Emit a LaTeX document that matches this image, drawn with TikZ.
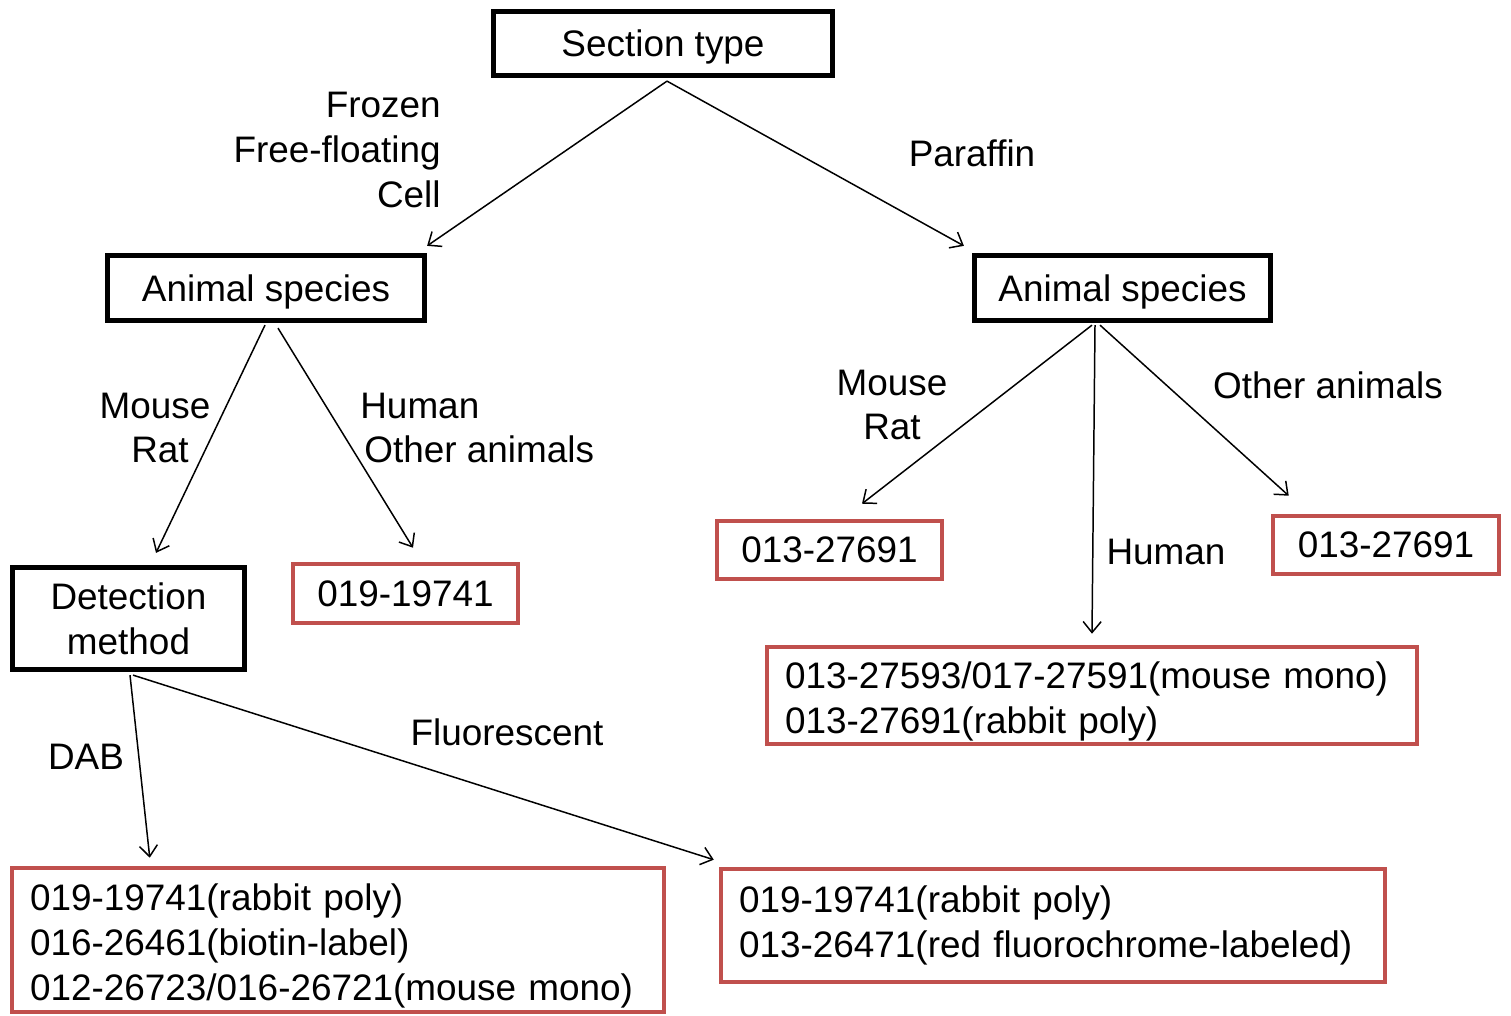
\documentclass[tikz,border=0pt]{standalone}
\usepackage{fontspec}
\setmainfont{Liberation Sans}
\usetikzlibrary{arrows.meta}
\definecolor{resred}{RGB}{192,80,77}

\begin{document}
\begin{tikzpicture}[
  x=0.02cm, y=-0.02cm,
  font=\fontsize{21}{25.6}\selectfont,
  >={Straight Barb[length=0.22cm,width=0.36cm]},
  question/.style={draw, line width=3pt, align=center},
  oneline/.style={text height=0.68cm, text depth=0.155cm},
  result/.style={draw=resred, line width=2.6pt, align=left, inner xsep=0.36cm, inner ysep=1pt},
  link/.style={->, line width=0.85pt},
  label/.style={inner sep=0pt}
]
\useasboundingbox (0,0) rectangle (1511,1016);

\node[question, oneline, minimum width=6.78cm, minimum height=1.28cm] (section) at (663,43.5) {Section type};
\node[question, oneline, minimum width=6.34cm, minimum height=1.3cm] (species_l) at (266,288) {Animal species};
\node[question, oneline, minimum width=5.92cm, minimum height=1.3cm] (species_r) at (1122.5,288) {Animal species};
\node[question, minimum width=4.64cm, minimum height=2.04cm] (detection) at (128.5,618.5) {Detection\\method};

\node[result, minimum width=4.5cm, minimum height=1.18cm, align=center] (human_l) at (405.5,593.5) {019-19741};
\node[result, minimum width=4.5cm, minimum height=1.16cm, align=center] (mouse_r) at (829.5,550) {013-27691};
\node[result, minimum width=4.52cm, minimum height=1.16cm, align=center] (other_r) at (1386,545) {013-27691};
\node[result, text width=12.28cm, minimum height=1.94cm] (human_r) at (1092,695.5)
  {\rule{0pt}{0.78cm}013-27593/017-27591(mouse mono)\\013-27691(rabbit poly)};
\node[result, text width=12.32cm, minimum height=2.88cm] (dab) at (338,940)
  {\rule{0pt}{0.78cm}019-19741(rabbit poly)\\016-26461(biotin-label)\\012-26723/016-26721(mouse mono)};
\node[result, text width=12.56cm, minimum height=2.26cm] (fluor) at (1053,925.5)
  {019-19741(rabbit poly)\\013-26471(red fluorochrome-labeled)};

\draw[link] ([xshift=0.08cm,yshift=-0.06cm]section.south) -- ([yshift=0.14cm]species_l.north east);
\draw[link] ([xshift=0.08cm,yshift=-0.06cm]section.south) -- ([xshift=-0.16cm,yshift=0.14cm]species_r.north west);
\draw[link] ([xshift=-0.02cm,yshift=-0.04cm]species_l.south) -- ([xshift=0.55cm,yshift=0.24cm]detection.north);
\draw[link] ([xshift=0.24cm,yshift=-0.1cm]species_l.south) -- ([xshift=0.15cm,yshift=0.28cm]human_l.north);
\draw[link] ([xshift=-0.61cm,yshift=-0.04cm]species_r.south) -- ([xshift=0.65cm,yshift=0.3cm]mouse_r.north);
\draw[link] ([xshift=-0.55cm,yshift=-0.04cm]species_r.south) -- ([yshift=0.22cm]human_r.north);
\draw[link] ([xshift=-0.45cm,yshift=-0.04cm]species_r.south) -- ([xshift=0.36cm,yshift=0.36cm]other_r.north west);
\draw[link] ([xshift=0.03cm,yshift=-0.06cm]detection.south) -- ([xshift=2.8cm,yshift=0.16cm]dab.north west);
\draw[link] ([xshift=0.09cm,yshift=-0.06cm]detection.south) -- ([xshift=-0.1cm,yshift=0.14cm]fluor.north west);

% branch labels
\node[label, align=right, anchor=east] (frozen) at (441,150) {Frozen\\Free-floating\\Cell};
\node[label] (paraffin) at (972,153) {Paraffin};
\node[label, align=center] (mouse_l) at (155,428) {Mouse\\\hspace*{0.2cm}Rat};
\node[label, align=left, anchor=west] (other_l) at (360,428) {Human\\\hspace*{0.08cm}Other animals};
\node[label, align=center] (mouse_rl) at (892,405) {Mouse\\Rat};
\node[label] (other_rl) at (1328,385) {Other animals};
\node[label] (human_rl) at (1166,552) {Human};
\node[label] (dab_l) at (86,757) {DAB};
\node[label] (fluor_l) at (507,732) {Fluorescent};
\end{tikzpicture}
\end{document}
